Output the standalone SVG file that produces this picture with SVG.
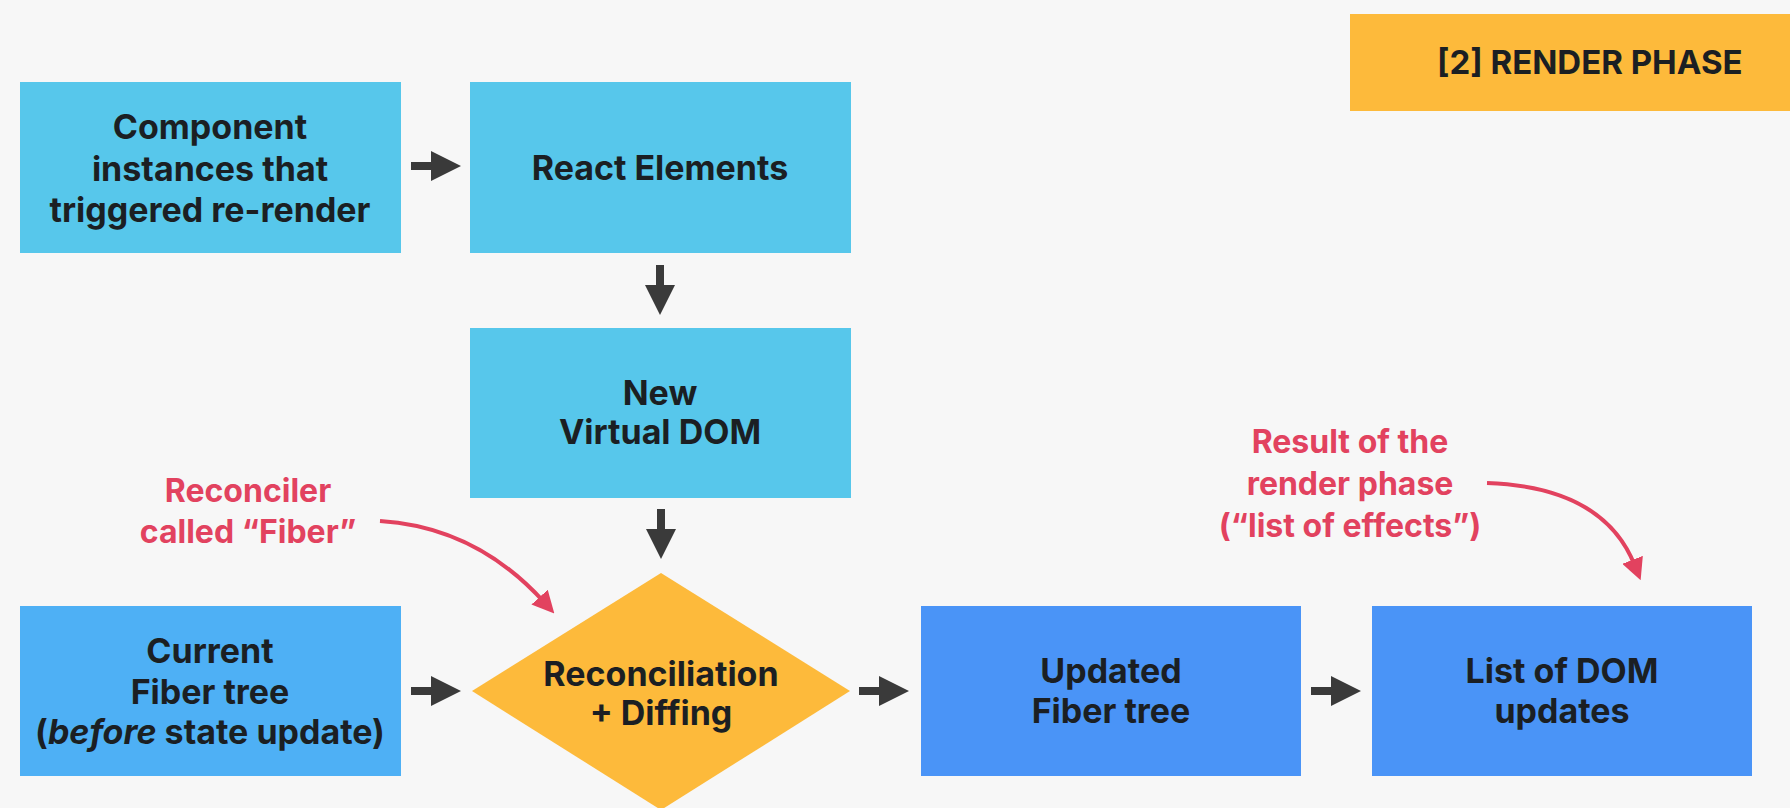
<svg xmlns="http://www.w3.org/2000/svg" width="1790" height="808" viewBox="0 0 1790 808">
<style>
.bg{fill:#f7f7f7}
.cyan{fill:#57c7eb}
.sky{fill:#4eb0f5}
.blue{fill:#4a94f7}
.amber{fill:#fdba3b}
.t{font-family:Inter,"Liberation Sans",sans-serif;font-weight:700;font-size:34px;fill:#1b1f23;text-anchor:middle}
.badge{font-family:Inter,"Liberation Sans",sans-serif;font-weight:700;font-size:33px;fill:#1b1f23}
.note{font-family:Inter,"Liberation Sans",sans-serif;font-weight:700;font-size:32px;fill:#e2425f;text-anchor:middle}
.dark{fill:#3a3a3a}
.red{fill:none;stroke:#e2425f;stroke-width:4}
</style>
<defs>
<path id="darr" d="M0,-4 H20 V-15 L50,0 L20,15 V4 H0 Z"/>
<marker id="rh" viewBox="0 0 10 10" refX="3" refY="5" markerWidth="22" markerHeight="22" markerUnits="userSpaceOnUse" orient="auto">
<path d="M0,0 L10,5 L0,10 Z" fill="#e2425f"/>
</marker>
</defs>
<rect class="bg" x="0" y="0" width="1790" height="808"/>

<g id="badge">
<rect class="amber" x="1350" y="14" width="440" height="97"/>
<text class="badge" x="1437" y="74">[2] RENDER PHASE</text>
</g>

<g id="component-instances">
<rect class="cyan" x="20" y="82" width="381" height="171"/>
<text class="t" x="210" y="139">Component</text>
<text class="t" x="210" y="181">instances that</text>
<text class="t" x="210" y="222">triggered re-render</text>
</g>

<g id="react-elements">
<rect class="cyan" x="470" y="82" width="381" height="171"/>
<text class="t" x="660" y="180">React Elements</text>
</g>

<g id="virtual-dom">
<rect class="cyan" x="470" y="328" width="381" height="170"/>
<text class="t" x="660" y="405">New</text>
<text class="t" x="660" y="444">Virtual DOM</text>
</g>

<g id="reconciliation">
<polygon class="amber" points="661,573 850,691 661,810 472,691"/>
<text class="t" x="661" y="686">Reconciliation</text>
<text class="t" x="661" y="725">+ Diffing</text>
</g>

<g id="current-fiber">
<rect class="sky" x="20" y="606" width="381" height="170"/>
<text class="t" x="210" y="663">Current</text>
<text class="t" x="210" y="704">Fiber tree</text>
<text class="t" x="210" y="744">(<tspan font-style="italic">before</tspan> state update)</text>
</g>

<g id="updated-fiber">
<rect class="blue" x="921" y="606" width="380" height="170"/>
<text class="t" x="1111" y="683">Updated</text>
<text class="t" x="1111" y="723">Fiber tree</text>
</g>

<g id="dom-updates">
<rect class="blue" x="1372" y="606" width="380" height="170"/>
<text class="t" x="1562" y="683">List of DOM</text>
<text class="t" x="1562" y="723">updates</text>
</g>

<g id="note-fiber">
<text class="note" x="248" y="502">Reconciler</text>
<text class="note" x="248" y="543">called “Fiber”</text>
</g>

<g id="note-result">
<text class="note" x="1350" y="453">Result of the</text>
<text class="note" x="1350" y="495">render phase</text>
<text class="note" x="1350" y="537">(“list of effects”)</text>
</g>

<g id="connectors">
<use class="dark" href="#darr" transform="translate(411,166)"/>
<use class="dark" href="#darr" transform="translate(660,265) rotate(90)"/>
<use class="dark" href="#darr" transform="translate(661,509) rotate(90)"/>
<use class="dark" href="#darr" transform="translate(411,691)"/>
<use class="dark" href="#darr" transform="translate(859,691)"/>
<use class="dark" href="#darr" transform="translate(1311,691)"/>
<path class="red" d="M380,521 Q476,527 544,602" marker-end="url(#rh)"/>
<path class="red" d="M1487,483 Q1604,487 1635,566" marker-end="url(#rh)"/>
</g>
</svg>
